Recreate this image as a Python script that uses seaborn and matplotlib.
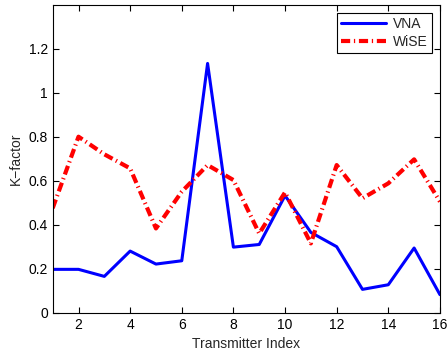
import matplotlib
matplotlib.use("Agg")
import matplotlib.pyplot as plt
import seaborn as sns
import pandas as pd

transmitter = list(range(1, 17))
vna = [0.197, 0.197, 0.165, 0.280, 0.221, 0.236, 1.133, 0.298,
       0.310, 0.532, 0.365, 0.300, 0.106, 0.127, 0.294, 0.082]
wise = [0.475, 0.800, 0.720, 0.656, 0.383, 0.550, 0.671, 0.603,
        0.360, 0.547, 0.315, 0.671, 0.520, 0.588, 0.697, 0.505]
xticks = [2, 4, 6, 8, 10, 12, 14, 16]
yticks = [0, 0.2, 0.4, 0.6, 0.8, 1.0, 1.2]
ytick_labels = ["0", "0.2", "0.4", "0.6", "0.8", "1", "1.2"]

sns.set_style("ticks")
plt.rcParams["font.family"] = ["Liberation Sans", "DejaVu Sans"]

df = pd.DataFrame({"Transmitter": transmitter + transmitter,
                   "K": vna + wise,
                   "Source": ["VNA"] * 16 + ["WiSE"] * 16})

fig = plt.figure(figsize=(4.48, 3.53), dpi=100)
ax = fig.add_axes([0.1176, 0.1142, 0.8644, 0.8725])

sns.lineplot(data=df[df.Source == "VNA"], x="Transmitter", y="K", ax=ax,
             color="#0000ff", lw=2.2, label="VNA")
sns.lineplot(data=df[df.Source == "WiSE"], x="Transmitter", y="K", ax=ax,
             color="#ff0000", lw=3.0, dashes=False, label="WiSE")
ax.lines[1].set_dashes([2.2, 0.9, 0.3, 0.9])

ax.set_xlim(1, 16)
ax.set_ylim(0, 1.4)
ax.set_xticks(xticks)
ax.set_yticks(yticks)
ax.set_yticklabels(ytick_labels)
ax.tick_params(direction="in", top=True, right=True, labelsize=10,
               length=4, width=0.8, colors="black")
for s in ax.spines.values():
    s.set_visible(True)
    s.set_linewidth(0.8)
    s.set_color("black")
ax.set_xlabel("Transmitter Index", fontsize=10)
ax.set_ylabel("K\u2212factor", fontsize=10)

leg = ax.legend(loc="upper right", fontsize=10, frameon=True, fancybox=False,
                edgecolor="black", framealpha=1, handlelength=3.2,
                handletextpad=0.5, borderpad=0.3, labelspacing=0.25,
                borderaxespad=0.6)
leg.get_frame().set_linewidth(0.8)
leg.get_lines()[1].set_dashes([2.2, 0.9, 0.3, 0.9])

fig.savefig("out.png", dpi=100)
